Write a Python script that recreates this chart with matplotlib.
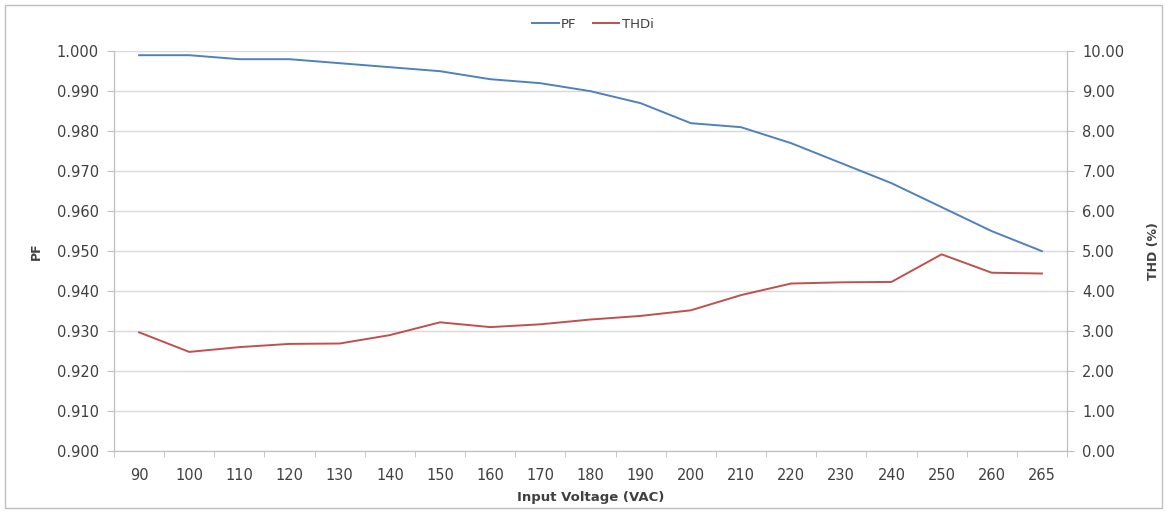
import matplotlib
matplotlib.use("Agg")
import matplotlib.pyplot as plt
from matplotlib.patches import Rectangle
import numpy as np

voltages = ["90", "100", "110", "120", "130", "140", "150", "160", "170", "180",
            "190", "200", "210", "220", "230", "240", "250", "260", "265"]
pf = [0.999, 0.999, 0.998, 0.998, 0.997, 0.996, 0.995, 0.993, 0.992, 0.990,
      0.987, 0.982, 0.981, 0.977, 0.972, 0.967, 0.961, 0.955, 0.950]
thd = [2.97, 2.48, 2.60, 2.68, 2.69, 2.90, 3.22, 3.10, 3.17, 3.29,
       3.38, 3.52, 3.90, 4.19, 4.22, 4.23, 4.92, 4.46, 4.44]

plt.rcParams['font.family'] = ['DejaVu Sans']
txt = '#404040'
grid_c = '#d9d9d9'
axis_c = '#bfbfbf'

fig = plt.figure(figsize=(11.67, 5.12), dpi=100)
ax = fig.add_axes([0.0977, 0.119, 0.8166, 0.781])
ax2 = ax.twinx()

x = np.arange(len(voltages))
l1, = ax.plot(x, pf, color='#4f81bd', lw=1.4, label='PF')
l2, = ax2.plot(x, thd, color='#c0504d', lw=1.4, label='THDi')

ax.set_xlim(-0.5, len(voltages) - 0.5)
ax.set_ylim(0.900, 1.000)
ax2.set_ylim(0, 10)
ax.set_yticks(np.linspace(0.900, 1.000, 11))
ax.set_yticklabels([f"{v:.3f}" for v in np.linspace(0.900, 1.000, 11)])
ax2.set_yticks(np.arange(0, 11, 1))
ax2.set_yticklabels([f"{v:.2f}" for v in np.arange(0, 11, 1)])
ax.set_xticks(x)
ax.set_xticklabels(voltages)
ax.set_xticks(np.arange(-0.5, len(voltages), 1), minor=True)

ax.grid(axis='y', color=grid_c, lw=1)
ax.set_axisbelow(True)

for a in (ax, ax2):
    for s in a.spines.values():
        s.set_color(axis_c)
    a.spines['top'].set_visible(False)
ax.tick_params(axis='x', which='major', length=0, pad=12, labelsize=10.5, labelcolor=txt)
ax.tick_params(axis='x', which='minor', length=4, color=axis_c)
ax.tick_params(axis='y', length=5, color=axis_c, pad=6, labelsize=10.5, labelcolor=txt)
ax2.tick_params(axis='y', length=5, color=axis_c, pad=6, labelsize=10.5, labelcolor=txt)

ax.set_ylabel('PF', fontsize=9, fontweight='bold', color=txt, labelpad=10)
ax2.set_ylabel('THD (%)', fontsize=9, fontweight='bold', color=txt, labelpad=16)
ax.set_xlabel('Input Voltage (VAC)', fontsize=9.5, fontweight='bold', color=txt, labelpad=6)

fig.legend(handles=[l1, l2], loc='center', bbox_to_anchor=(0.508, 0.952), ncol=2,
           frameon=False, fontsize=9.5, handlelength=2.0, handletextpad=0.2,
           columnspacing=1.2, labelcolor=txt)

fig.patches.append(Rectangle((0.004, 0.008), 0.992, 0.982, transform=fig.transFigure,
                             fill=False, edgecolor='#bfbfbf', lw=1))

fig.savefig('out.png', dpi=100)
